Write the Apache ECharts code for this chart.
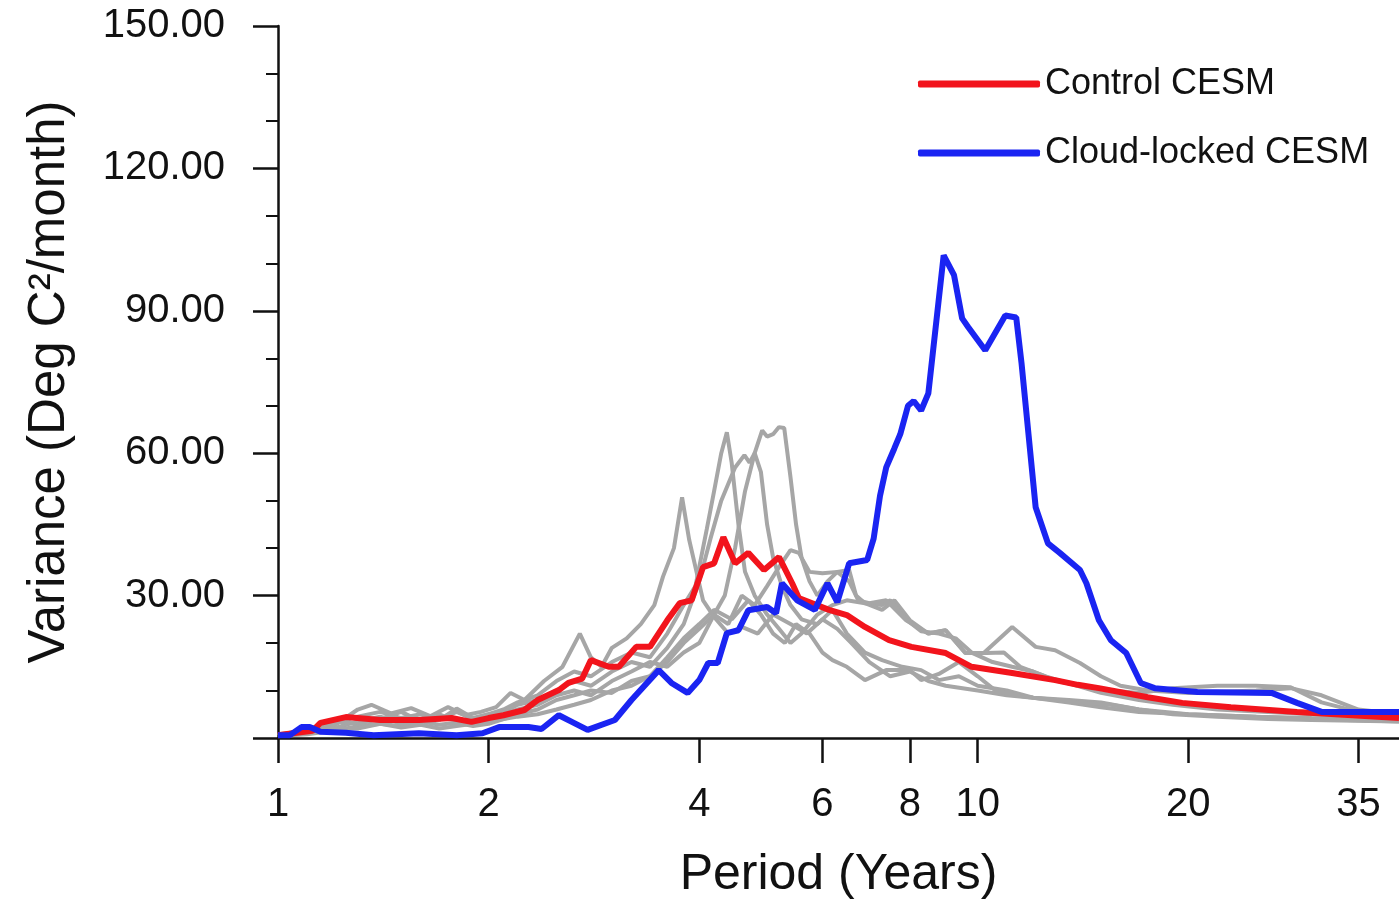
<!DOCTYPE html>
<html>
<head>
<meta charset="utf-8">
<title>Variance spectrum</title>
<script src="https://cdn.jsdelivr.net/npm/echarts@6/dist/echarts.min.js"></script>
<style>
  html, body { margin: 0; padding: 0; background: #fff; }
  #chart { width: 1399px; height: 906px; }
</style>
</head>
<body>
<div id="chart"></div>
<script>
// Period axis tick labels (years) and variance axis range
const periodTicks = [1, 2, 4, 6, 8, 10, 20, 35];
const periodRange = [1, 40];
const varianceRange = [0, 150];
const varianceStep = 30;

// Control CESM: [period (years), variance]
const controlCESM = [
  [1.0,0.6],[1.05,1.0],[1.12,1.5],[1.15,3.2],[1.25,4.4],[1.4,3.8],[1.59,3.8],[1.77,4.2],
  [1.89,3.4],[2.0,4.2],[2.1,4.8],[2.25,5.9],[2.35,8],[2.52,10.1],[2.6,11.6],[2.72,12.5],
  [2.8,16.4],[2.97,15],[3.07,15],[3.25,19.2],[3.4,19.2],[3.6,24.8],[3.75,28.4],[3.9,29],
  [4.05,36],[4.2,36.8],[4.33,42.3],[4.5,36.8],[4.7,39],[4.95,35.4],[5.2,38.1],[5.43,32.6],
  [5.55,29.5],[5.8,28.4],[6.13,27],[6.5,25.9],[6.9,23.4],[7.47,20.6],[8.04,19.2],[9.0,17.9],
  [9.8,15],[11.2,13.7],[12.9,12.2],[13.9,11.2],[14.9,10.5],[17.5,8.6],[19.6,7.4],[23,6.5],
  [28.6,5.5],[40,4.2]
];

// Cloud-locked CESM: [period (years), variance]
const cloudLockedCESM = [
  [1.0,0.6],[1.04,0.6],[1.08,2.3],[1.11,2.3],[1.15,1.3],[1.25,1.1],[1.37,0.6],[1.59,1.0],
  [1.8,0.6],[1.96,1.0],[2.07,2.3],[2.15,2.3],[2.28,2.3],[2.38,1.9],[2.52,4.8],[2.63,3.4],
  [2.77,1.7],[3.03,3.8],[3.2,8],[3.5,14.3],[3.65,11.6],[3.85,9.5],[4.0,12.2],[4.12,15.8],
  [4.25,15.8],[4.38,22.1],[4.55,22.7],[4.7,26.9],[5.0,27.6],[5.15,26.3],[5.25,32.6],[5.52,29],
  [5.85,27],[6.1,32.6],[6.3,28.6],[6.55,36.8],[6.95,37.5],[7.1,42],[7.25,51],[7.4,57],
  [7.6,61],[7.75,64],[7.95,70],[8.1,71],[8.3,69],[8.5,72.6],[8.94,101.7],[9.25,97.5],
  [9.5,88.4],[9.7,86.5],[10.25,81.7],[10.95,89],[11.35,88.6],[11.55,79],[12.1,48.6],
  [12.6,41],[13.1,39],[14.0,35.4],[14.3,32.6],[14.9,24.8],[15.5,20.6],[16.3,17.9],
  [17.1,11.6],[17.9,10.5],[20.6,9.7],[26.3,9.5],[28.6,7.4],[31,5.5],[40,5.5]
];

// Individual ensemble members (grey)
const member1 = [
  [1.0,0.5],[1.1,1.2],[1.2,2.5],[1.3,6],[1.36,7],[1.45,5.2],[1.55,6.3],[1.65,4.6],
  [1.75,6.5],[1.85,4.8],[1.95,5.5],[2.05,6.5],[2.15,9.5],[2.25,8],[2.4,12],[2.55,15],[2.7,22],
  [2.8,17],[2.9,15],[3.0,19],[3.15,21],[3.3,24],[3.45,28],[3.55,34],[3.68,40],[3.78,50.7],
  [3.87,41.7],[3.95,36],[4.05,29],[4.2,25.5],[4.4,22],[4.6,23.4],[4.85,22],[5.1,26],
  [5.4,24],[5.7,22],[6.0,25],[6.3,23],[6.6,20],[7.0,16],[7.5,13],[8.0,14],[8.5,12],
  [9.0,11],[10,10],[11,9],[12,8.5],[13.5,8],[15,7.5],[17,6],[20,5],[25,4.5],[30,4],[40,3.5]
];
const member2 = [
  [1.0,0.8],[1.1,1.5],[1.2,3],[1.3,4.5],[1.4,5.5],[1.5,4.2],[1.6,5],[1.7,3.8],[1.8,6.2],
  [1.9,4.2],[2.0,5],[2.1,6],[2.2,7.5],[2.35,9],[2.5,12],[2.65,14],[2.8,13],[3.0,16],
  [3.2,18],[3.4,17],[3.6,22],[3.8,28],[3.95,32],[4.1,44],[4.2,52],[4.3,60],[4.38,64.4],
  [4.45,58],[4.55,45],[4.65,35],[4.8,30],[5.0,26],[5.2,23],[5.4,20],[5.6,22],[5.9,26],
  [6.2,28],[6.5,29],[6.9,28.4],[7.3,27],[7.6,29],[8.0,24.8],[8.5,22],[9.0,22.7],[9.6,17.9],
  [10.2,17.9],[11.2,23.4],[12.1,19.2],[12.9,18.5],[14,15.8],[15,13],[16,11],[17.5,10],
  [20,9.5],[25,10],[28,10.5],[31,9],[35,6],[40,5]
];
const member3 = [
  [1.0,0.5],[1.1,1],[1.2,2],[1.3,3.5],[1.4,4.5],[1.5,3],[1.6,4],[1.7,5],[1.8,3.5],
  [1.9,4],[2.0,5],[2.1,5.5],[2.2,7],[2.35,8],[2.5,10],[2.65,12],[2.8,11],[3.0,14],
  [3.2,16],[3.4,15],[3.6,19],[3.8,24],[4.0,33],[4.15,42],[4.3,50],[4.5,57],[4.64,59.6],
  [4.72,58],[4.8,60],[4.9,56],[5.0,45],[5.1,38],[5.25,32],[5.4,28],[5.6,25],[5.9,24],
  [6.2,27],[6.5,22],[6.9,18],[7.3,16.4],[7.8,15],[8.3,14.3],[8.8,12.2],[9.4,13],[10,11],
  [11,10],[12,8.5],[13.5,7.5],[15,6.5],[17,5.5],[20,5],[25,4.5],[30,4.2],[40,3.8]
];
const member4 = [
  [1.0,0.6],[1.1,1.8],[1.2,3.5],[1.3,3],[1.4,4],[1.5,5.5],[1.6,3.5],[1.7,4],[1.8,5.5],
  [1.9,4],[2.0,4],[2.1,5],[2.2,6],[2.35,7],[2.5,9],[2.65,10],[2.8,9],[3.0,12],[3.2,14],
  [3.4,16],[3.6,15],[3.8,18],[4.0,20],[4.2,26],[4.35,30],[4.5,40],[4.65,52],[4.8,60],
  [4.92,64.8],[5.0,63.5],[5.1,64],[5.2,65.5],[5.29,65.3],[5.4,55],[5.5,45],[5.6,38],
  [5.75,33],[5.9,30],[6.1,33],[6.3,35],[6.55,35.4],[6.7,30],[6.9,28.4],[7.3,28],[7.5,29],
  [7.9,25],[8.3,22.5],[8.8,22],[9.3,21],[9.8,18],[10.5,16],[11.2,15],[12,14],[13,12],
  [14,11],[15.5,10],[17,9.5],[19,10.5],[22,11],[25,11],[28,10.7],[31,7.5],[35,5.5],[40,5]
];
const member5 = [
  [1.0,0.4],[1.1,0.8],[1.2,1.5],[1.3,2.5],[1.4,3],[1.5,2.5],[1.6,3.5],[1.7,2.8],[1.8,3.2],
  [1.9,2.5],[2.0,3],[2.1,4],[2.2,5],[2.35,6],[2.5,8],[2.65,9],[2.8,10],[3.0,9.5],[3.2,12],
  [3.4,13],[3.6,16],[3.8,20],[4.0,23],[4.2,26],[4.4,24],[4.6,30],[4.8,28],[5.0,32],
  [5.2,36],[5.4,39.6],[5.55,39],[5.75,35],[6.0,34.7],[6.3,35],[6.55,33],[6.75,29],
  [7.0,28.4],[7.4,29],[7.9,24.8],[8.5,22],[9.0,22.7],[9.6,17.9],[10.3,17.9],[10.9,18],
  [11.5,15],[12.5,13],[13.5,11.5],[15,9.5],[17,8],[19,7],[22,6],[26,5.5],[30,5],[40,4.5]
];
const member6 = [
  [1.0,0.5],[1.1,1],[1.2,2],[1.3,2],[1.4,3],[1.5,2.2],[1.6,2.8],[1.7,2],[1.8,2.5],
  [1.9,3],[2.0,3.5],[2.1,4],[2.2,4.5],[2.35,5],[2.5,6],[2.65,7],[2.8,8],[3.0,10],
  [3.2,11],[3.4,13],[3.6,17],[3.8,21],[4.0,24],[4.2,27],[4.45,25],[4.7,29],[4.9,26],
  [5.1,22],[5.3,20],[5.5,24],[5.75,22],[6.0,18],[6.2,16.4],[6.5,15],[6.9,12.2],[7.4,14.3],
  [8.0,14.3],[8.3,12.2],[8.8,13.5],[9.4,16],[10,13],[10.6,10],[11.3,9],[12,8.5],[13,8],
  [14,7.5],[15.5,7],[17,6],[19,5],[22,4.5],[26,4],[30,3.8],[40,3.5]
];

const members = [member1, member2, member3, member4, member5, member6];

// The period axis is drawn on log10(period)
const toLog = rows => rows.map(([p, v]) => [Math.log10(p), v]);

const FONT = '"Liberation Sans", Arial, Helvetica, sans-serif';
const INK = '#111';
const RED = '#f2141c';
const BLUE = '#1a24f2';
const GREY = '#a6a6a6';

const greySeries = members.map((m, i) => ({
  name: 'Member ' + (i + 1),
  type: 'line',
  data: toLog(m),
  symbol: 'none',
  lineStyle: { color: GREY, width: 4 },
  itemStyle: { color: GREY },
  z: 2
}));

const chart = echarts.init(document.getElementById('chart'), null, { renderer: 'canvas' });

chart.setOption({
  animation: false,
  backgroundColor: '#ffffff',
  grid: { left: 278, right: -2, top: 26, bottom: 168, containLabel: false },
  legend: {
    show: true,
    data: [
      { name: 'Control CESM', icon: 'roundRect', itemStyle: { color: RED } },
      { name: 'Cloud-locked CESM', icon: 'roundRect', itemStyle: { color: BLUE } }
    ],
    orient: 'vertical',
    left: 918,
    top: 64,
    padding: 0,
    itemWidth: 122,
    itemHeight: 7,
    itemGap: 29,
    selectedMode: false,
    textStyle: { fontFamily: FONT, fontSize: 36, color: INK, lineHeight: 40 }
  },
  xAxis: {
    type: 'value',
    min: Math.log10(periodRange[0]),
    max: Math.log10(periodRange[1]),
    name: 'Period (Years)',
    nameLocation: 'middle',
    nameGap: 112,
    nameTextStyle: { fontFamily: FONT, fontSize: 50, color: INK },
    axisLine: { show: true, onZero: false, lineStyle: { color: INK, width: 2.5 } },
    axisTick: {
      show: true, inside: false, length: 25,
      customValues: periodTicks.map(Math.log10),
      lineStyle: { color: INK, width: 2.5 }
    },
    axisLabel: {
      margin: 47,
      fontFamily: FONT, fontSize: 40, color: INK,
      customValues: periodTicks.map(Math.log10),
      formatter: v => String(Math.round(Math.pow(10, v)))
    },
    splitLine: { show: false }
  },
  yAxis: {
    type: 'value',
    min: varianceRange[0],
    max: varianceRange[1],
    interval: varianceStep,
    name: 'Variance (Deg C²/month)',
    nameLocation: 'middle',
    nameGap: 203,
    nameTextStyle: { fontFamily: FONT, fontSize: 51, color: INK },
    axisLine: { show: true, lineStyle: { color: INK, width: 2.5 } },
    axisTick: { show: true, inside: false, length: 25, lineStyle: { color: INK, width: 2.5 } },
    minorTick: { show: true, splitNumber: 3, length: 12, lineStyle: { color: INK, width: 2 } },
    axisLabel: {
      margin: 53,
      fontFamily: FONT, fontSize: 40, color: INK,
      formatter: v => v.toFixed(2),
      showMinLabel: false
    },
    splitLine: { show: false }
  },
  series: [
    ...greySeries,
    {
      name: 'Control CESM',
      type: 'line',
      data: toLog(controlCESM),
      symbol: 'none',
      lineStyle: { color: RED, width: 6 },
      itemStyle: { color: RED },
      z: 3
    },
    {
      name: 'Cloud-locked CESM',
      type: 'line',
      data: toLog(cloudLockedCESM),
      symbol: 'none',
      lineStyle: { color: BLUE, width: 6 },
      itemStyle: { color: BLUE },
      z: 4
    }
  ]
});
</script>
</body>
</html>
